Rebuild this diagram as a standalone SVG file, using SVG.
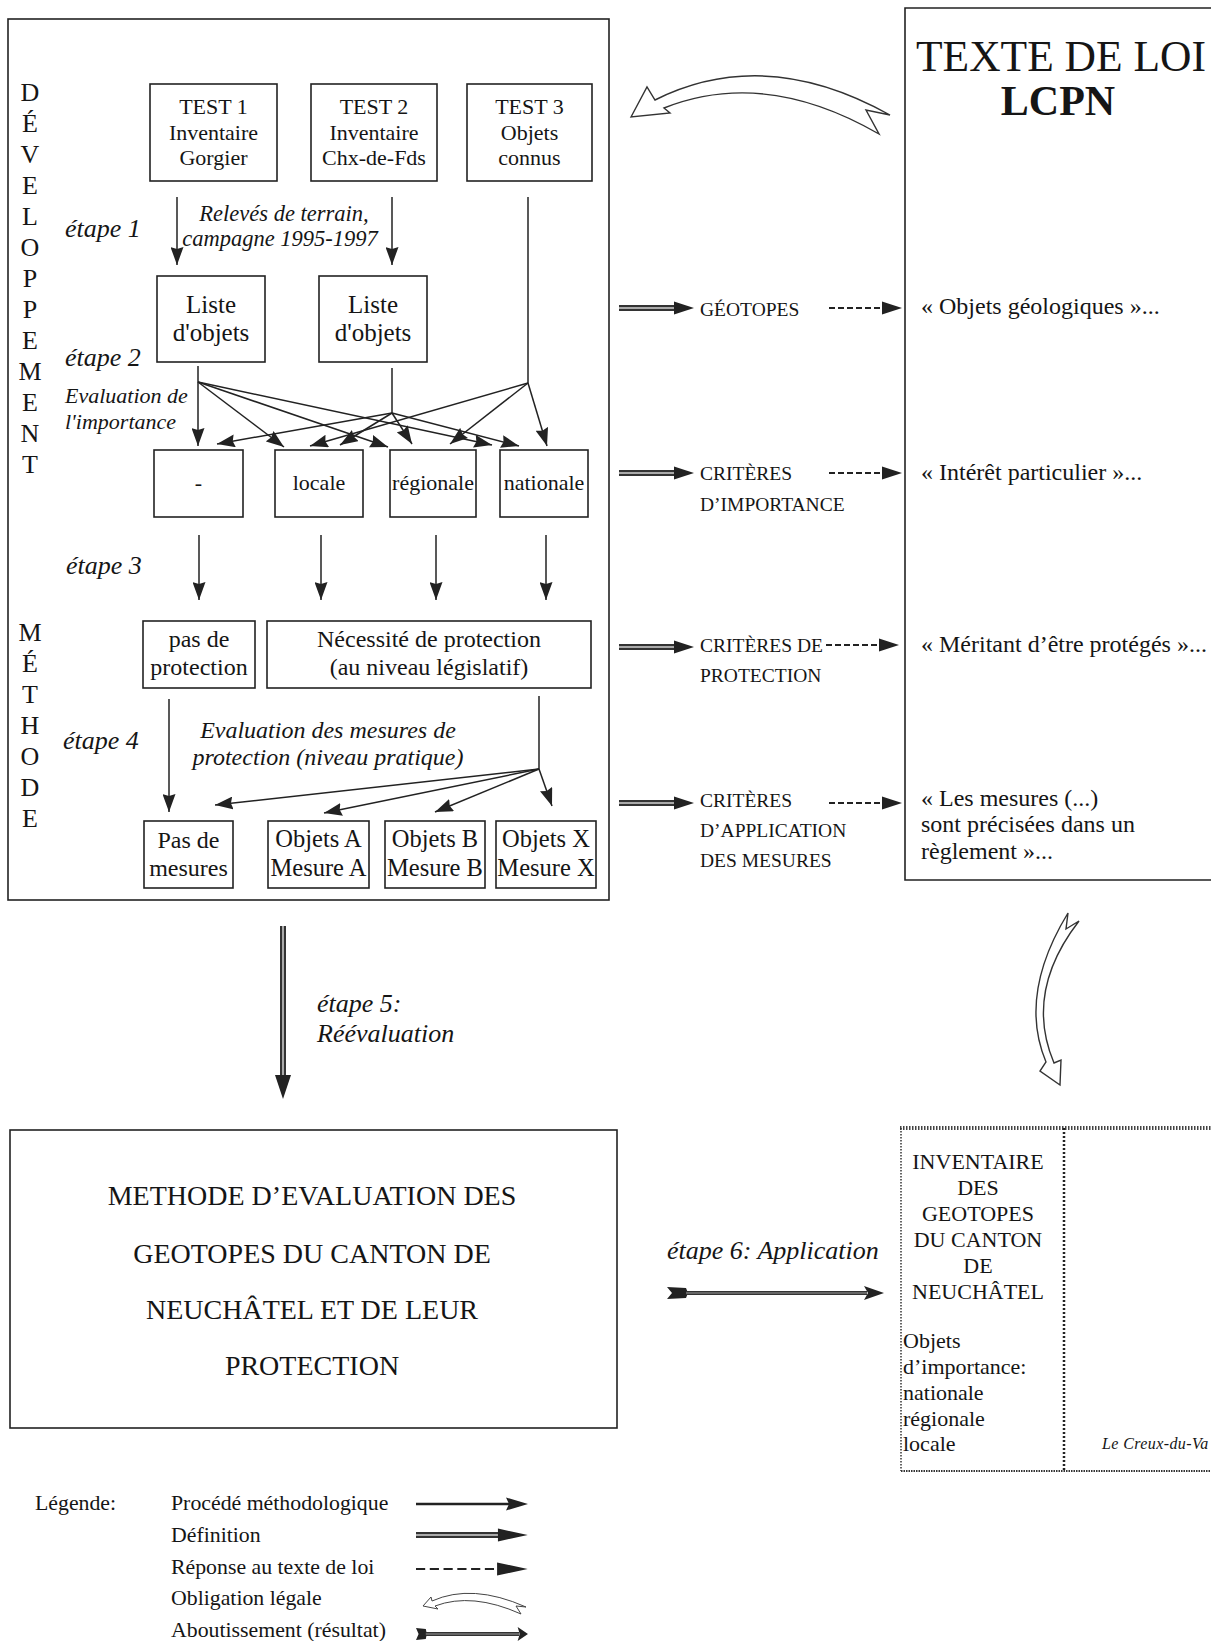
<svg xmlns="http://www.w3.org/2000/svg" xmlns:xlink="http://www.w3.org/1999/xlink" width="1211" height="1641" viewBox="0 0 1211 1641">
<style>
.bx{fill:none;stroke:#222;stroke-width:1.6}
.t{font-family:"Liberation Serif","Times New Roman",serif;fill:#151515;dominant-baseline:central}
.c{text-anchor:middle}
.i{font-style:italic}
.ln{stroke:#222;stroke-width:1.5;fill:none}
.ar{marker-end:url(#ah)}
.hol{fill:#fff;stroke:#333;stroke-width:1.4;stroke-linejoin:miter}
</style>
<defs>
<marker id="ah" viewBox="0 0 18 13" refX="18" refY="6.5" markerWidth="18" markerHeight="13" markerUnits="userSpaceOnUse" orient="auto">
<path d="M0,0 L18,6.5 L0,13 L2,6.5 z" fill="#222"/>
</marker>
<g id="defArrow">
<line x1="0" y1="0" x2="57" y2="0" stroke="#333" stroke-width="6"/>
<line x1="0" y1="0" x2="57" y2="0" stroke="#aaa" stroke-width="2"/>
<path d="M55,-6.5 L75,0 L55,6.5 z" fill="#222"/>
</g>
<g id="dashArrow">
<line x1="0" y1="0" x2="55" y2="0" stroke="#222" stroke-width="2" stroke-dasharray="6 3"/>
<path d="M53,-6.5 L73,0 L53,6.5 z" fill="#222"/>
</g>
<g id="resArrow">
<path d="M0,-6 L19,-5 L21,0 L19,5 L0,6 L5,0 z" fill="#222"/>
<line x1="19" y1="0" x2="200" y2="0" stroke="#333" stroke-width="4"/>
<line x1="19" y1="0" x2="200" y2="0" stroke="#999" stroke-width="1.2"/>
<path d="M197,-7 L217,0 L197,7 L201,0 z" fill="#222"/>
</g>
</defs>
<rect width="1211" height="1641" fill="#fff"/>

<g id="frame-methode">
<rect class="bx" x="8" y="19" width="601" height="881"/>
<g class="t c" font-size="26">
<text x="30" y="92">D</text><text x="30" y="123">É</text><text x="30" y="154">V</text><text x="30" y="185">E</text><text x="30" y="216">L</text><text x="30" y="247">O</text><text x="30" y="278">P</text><text x="30" y="309">P</text><text x="30" y="340">E</text><text x="30" y="371">M</text><text x="30" y="402">E</text><text x="30" y="433">N</text><text x="30" y="464">T</text>
<text x="30" y="632">M</text><text x="30" y="663">É</text><text x="30" y="694">T</text><text x="30" y="725">H</text><text x="30" y="756">O</text><text x="30" y="787">D</text><text x="30" y="818">E</text>
</g>
<g class="t i" font-size="26">
<text x="65" y="228">étape 1</text>
<text x="65" y="357">étape 2</text>
<text x="66" y="565">étape 3</text>
<text x="63" y="740">étape 4</text>
</g>
<g class="t i c" font-size="22.5">
<text x="284" y="213">Relevés de terrain,</text>
<text x="280" y="238">campagne 1995-1997</text>
</g>
<g class="t i" font-size="22">
<text x="65" y="395">Evaluation de</text>
<text x="65" y="421">l'importance</text>
</g>
<g class="t i c" font-size="24">
<text x="328" y="730">Evaluation des mesures de</text>
<text x="328" y="757">protection (niveau pratique)</text>
</g>
</g>

<g id="test1"><rect class="bx" x="150" y="84" width="127" height="97"/>
<g class="t c" font-size="22"><text x="213.5" y="106">TEST 1</text><text x="213.5" y="132">Inventaire</text><text x="213.5" y="157">Gorgier</text></g></g>
<g id="test2"><rect class="bx" x="311" y="84" width="126" height="97"/>
<g class="t c" font-size="22"><text x="374" y="106">TEST 2</text><text x="374" y="132">Inventaire</text><text x="374" y="157">Chx-de-Fds</text></g></g>
<g id="test3"><rect class="bx" x="467" y="84" width="125" height="97"/>
<g class="t c" font-size="22"><text x="529.5" y="106">TEST 3</text><text x="529.5" y="132">Objets</text><text x="529.5" y="157">connus</text></g></g>

<g id="liste1"><rect class="bx" x="157" y="276" width="108" height="86"/>
<g class="t c" font-size="25"><text x="211" y="304">Liste</text><text x="211" y="332">d'objets</text></g></g>
<g id="liste2"><rect class="bx" x="319" y="276" width="108" height="86"/>
<g class="t c" font-size="25"><text x="373" y="304">Liste</text><text x="373" y="332">d'objets</text></g></g>

<g id="imp-none"><rect class="bx" x="154" y="450" width="89" height="67"/><text class="t c" font-size="22" x="198.5" y="482">-</text></g>
<g id="imp-locale"><rect class="bx" x="275" y="450" width="88" height="67"/><text class="t c" font-size="22" x="319" y="482">locale</text></g>
<g id="imp-regionale"><rect class="bx" x="390" y="450" width="86" height="67"/><text class="t c" font-size="22" x="433" y="482">régionale</text></g>
<g id="imp-nationale"><rect class="bx" x="500" y="450" width="88" height="67"/><text class="t c" font-size="22" x="544" y="482">nationale</text></g>

<g id="pas-protection"><rect class="bx" x="143" y="621" width="112" height="67"/>
<g class="t c" font-size="24"><text x="199" y="639">pas de</text><text x="199" y="667">protection</text></g></g>
<g id="necessite"><rect class="bx" x="267" y="621" width="324" height="67"/>
<g class="t c" font-size="24"><text x="429" y="639">Nécessité de protection</text><text x="429" y="667">(au niveau législatif)</text></g></g>

<g id="pas-mesures"><rect class="bx" x="144" y="821" width="89" height="67"/>
<g class="t c" font-size="24"><text x="188.5" y="840">Pas de</text><text x="188.5" y="868">mesures</text></g></g>
<g id="objets-a"><rect class="bx" x="268" y="821" width="101" height="67"/>
<g class="t c" font-size="24.5"><text x="318.5" y="838">Objets A</text><text x="318.5" y="867">Mesure A</text></g></g>
<g id="objets-b"><rect class="bx" x="385" y="821" width="100" height="67"/>
<g class="t c" font-size="24.5"><text x="435" y="838">Objets B</text><text x="435" y="867">Mesure B</text></g></g>
<g id="objets-x"><rect class="bx" x="496" y="821" width="100" height="67"/>
<g class="t c" font-size="24.5"><text x="546" y="838">Objets X</text><text x="546" y="867">Mesure X</text></g></g>

<g id="texte-loi">
<path class="bx" d="M1215,8 H905 V880 H1215"/>
<text class="t c" font-size="43.5" x="1061" y="56">TEXTE DE LOI</text>
<text class="t c" font-size="42" font-weight="bold" x="1058" y="101">LCPN</text>
<g class="t" font-size="24">
<text x="921" y="306">« Objets géologiques »...</text>
<text x="921" y="472">« Intérêt particulier »...</text>
<text x="921" y="644">« Méritant d’être protégés »...</text>
<text x="921" y="798">« Les mesures (...)</text>
<text x="921" y="824">sont précisées dans un</text>
<text x="921" y="851">règlement »...</text>
</g>
</g>

<g id="criteres" class="t" font-size="19.5">
<text x="700" y="309">GÉOTOPES</text>
<text x="700" y="473">CRITÈRES</text>
<text x="700" y="504">D’IMPORTANCE</text>
<text x="700" y="645">CRITÈRES DE</text>
<text x="700" y="675">PROTECTION</text>
<text x="700" y="800">CRITÈRES</text>
<text x="700" y="830">D’APPLICATION</text>
<text x="700" y="860">DES MESURES</text>
</g>

<g id="methode-finale">
<rect class="bx" x="10" y="1130" width="607" height="298"/>
<g class="t c" font-size="28">
<text x="312" y="1195">METHODE D’EVALUATION DES</text>
<text x="312" y="1253">GEOTOPES DU CANTON DE</text>
<text x="312" y="1309">NEUCHÂTEL ET DE LEUR</text>
<text x="312" y="1365">PROTECTION</text>
</g>
</g>

<g id="inventaire">
<line x1="900" y1="1128" x2="1215" y2="1128" stroke="#444" stroke-width="4" stroke-dasharray="1.5 1.5"/>
<line x1="901" y1="1128" x2="901" y2="1471" stroke="#333" stroke-width="1.5" stroke-dasharray="1.5 1.5"/>
<line x1="901" y1="1471" x2="1215" y2="1471" stroke="#333" stroke-width="2" stroke-dasharray="1.5 1"/>
<line x1="1064" y1="1128" x2="1064" y2="1471" stroke="#222" stroke-width="2.5" stroke-dasharray="2 2"/>
<g class="t c" font-size="22">
<text x="978" y="1161">INVENTAIRE</text>
<text x="978" y="1187">DES</text>
<text x="978" y="1213">GEOTOPES</text>
<text x="978" y="1239">DU CANTON</text>
<text x="978" y="1265">DE</text>
<text x="978" y="1291">NEUCHÂTEL</text>
</g>
<g class="t" font-size="22">
<text x="903" y="1340">Objets</text>
<text x="903" y="1366">d’importance:</text>
<text x="903" y="1392">nationale</text>
<text x="903" y="1418">régionale</text>
<text x="903" y="1443">locale</text>
</g>
<text class="t i" font-size="16" letter-spacing="0.4" x="1102" y="1443">Le Creux-du-Va</text>
</g>

<g id="etape-labels" class="t i" font-size="26">
<text x="317" y="1003">étape 5:</text>
<text x="317" y="1033">Réévaluation</text>
<text x="667" y="1250">étape 6: Application</text>
</g>

<g id="connectors">
<line class="ln ar" x1="177" y1="197" x2="177" y2="265"/>
<line class="ln ar" x1="392" y1="197" x2="392" y2="265"/>
<line class="ln" x1="528" y1="197" x2="528" y2="383"/>
<line class="ln" x1="198" y1="366" x2="198" y2="382"/>
<line class="ln" x1="392" y1="368" x2="392" y2="413"/>
<line class="ln ar" x1="198" y1="382" x2="198" y2="446"/>
<line class="ln ar" x1="198" y1="382" x2="284" y2="447"/>
<line class="ln ar" x1="198" y1="382" x2="388" y2="447"/>
<line class="ln ar" x1="198" y1="382" x2="492" y2="445"/>
<line class="ln ar" x1="392" y1="413" x2="217" y2="444"/>
<line class="ln ar" x1="392" y1="413" x2="340" y2="445"/>
<line class="ln ar" x1="392" y1="413" x2="412" y2="444"/>
<line class="ln ar" x1="392" y1="413" x2="519" y2="446"/>
<line class="ln ar" x1="528" y1="383" x2="310" y2="446"/>
<line class="ln ar" x1="528" y1="383" x2="450" y2="444"/>
<line class="ln ar" x1="528" y1="383" x2="547" y2="446"/>
<line class="ln ar" x1="199" y1="535" x2="199" y2="600"/>
<line class="ln ar" x1="321" y1="535" x2="321" y2="600"/>
<line class="ln ar" x1="436" y1="535" x2="436" y2="600"/>
<line class="ln ar" x1="546" y1="535" x2="546" y2="600"/>
<line class="ln ar" x1="169" y1="699" x2="169" y2="812"/>
<line class="ln" x1="539" y1="696" x2="539" y2="769"/>
<line class="ln ar" x1="539" y1="769" x2="215" y2="805"/>
<line class="ln ar" x1="539" y1="769" x2="324" y2="813"/>
<line class="ln ar" x1="539" y1="769" x2="435" y2="812"/>
<line class="ln ar" x1="539" y1="769" x2="552" y2="806"/>
<use xlink:href="#defArrow" x="619" y="308"/>
<use xlink:href="#defArrow" x="619" y="473"/>
<use xlink:href="#defArrow" x="619" y="647"/>
<use xlink:href="#defArrow" x="619" y="803"/>
<use xlink:href="#dashArrow" x="829" y="308"/>
<use xlink:href="#dashArrow" x="829" y="473"/>
<use xlink:href="#dashArrow" x="826" y="645"/>
<use xlink:href="#dashArrow" x="829" y="803"/>
<path class="hol" d="M631,117 L647,87 L655,100 Q765,45 890,115 L866,110 L879,134 Q765,68 664,108 L670,113 Z"/>
<path class="hol" d="M1068,913 Q1018,995 1046,1062 L1040,1071 L1060,1085 L1061,1060 L1054,1063 Q1024,992 1079,921 L1066,929 Z"/>
<line x1="283" y1="926" x2="283" y2="1078" stroke="#333" stroke-width="6"/>
<line x1="283" y1="926" x2="283" y2="1078" stroke="#aaa" stroke-width="2"/>
<path d="M275,1075 L283,1099 L291,1075 z" fill="#222"/>
<use xlink:href="#resArrow" x="667" y="1293"/>
</g>

<g id="legende">
<g class="t" font-size="21.8">
<text x="35" y="1503">Légende:</text>
<text x="171" y="1503">Procédé méthodologique</text>
<text x="171" y="1535">Définition</text>
<text x="171" y="1567">Réponse au texte de loi</text>
<text x="171" y="1598">Obligation légale</text>
<text x="171" y="1630">Aboutissement (résultat)</text>
</g>
<line x1="416" y1="1504" x2="510" y2="1504" stroke="#222" stroke-width="2.5"/>
<path d="M506,1497.5 L528,1504 L506,1510.5 L509,1504 z" fill="#222"/>
<g transform="translate(416,1535) scale(1.49,1)"><use xlink:href="#defArrow"/></g>
<g transform="translate(416,1569) scale(1.53,1)"><use xlink:href="#dashArrow"/></g>
<path fill="#fff" stroke="#444" stroke-width="1" d="M423,1606 L431,1597 L432,1601 Q472,1583 526,1607 L516,1606 L521,1614 Q472,1592 435,1606 L438,1609 Z"/>
<g transform="translate(416,1634) scale(0.516,1)"><use xlink:href="#resArrow"/></g>
</g>
</svg>
